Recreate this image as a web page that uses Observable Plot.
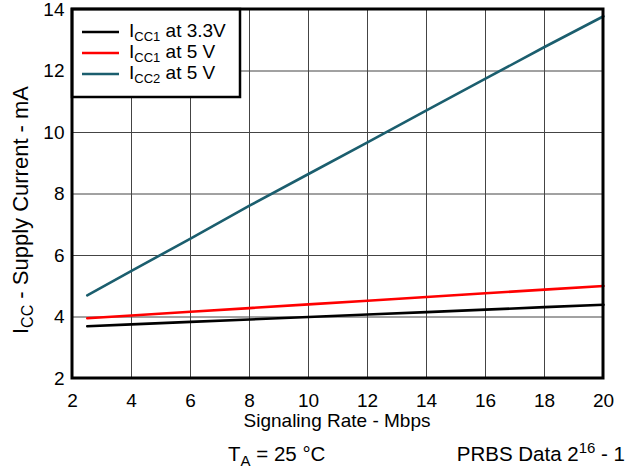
<!DOCTYPE html>
<html><head><meta charset="utf-8">
<script src="https://cdn.jsdelivr.net/npm/d3@7"></script>
<script src="https://cdn.jsdelivr.net/npm/@observablehq/plot@0.6"></script>
<style>
body{margin:0;background:#fff;}
svg{font-family:"Liberation Sans",Arial,sans-serif;}
</style></head><body>
<div id="chart"></div>
<script>
const rates = [2.5, 4, 6, 8, 10, 12, 14, 16, 18, 20];
const icc1_33 = [3.70, 3.76, 3.84, 3.92, 4.00, 4.08, 4.16, 4.24, 4.32, 4.40];
const icc1_5 = [3.96, 4.05, 4.17, 4.29, 4.41, 4.53, 4.65, 4.77, 4.89, 5.01];
const icc2_5 = [4.70, 5.50, 6.55, 7.62, 8.65, 9.68, 10.72, 11.75, 12.78, 13.78];
const seriesNames = ["ICC1 at 3.3V", "ICC1 at 5 V", "ICC2 at 5 V"];
const seriesColors = ["#000000", "#ff0000", "#1b5e6e"];
const xTicks = [2, 4, 6, 8, 10, 12, 14, 16, 18, 20];
const yTicks = [2, 4, 6, 8, 10, 12, 14];

const rows = [];
[icc1_33, icc1_5, icc2_5].forEach((vals, i) => {
  vals.forEach((v, j) => rows.push({series: seriesNames[i], x: rates[j], y: v}));
});

const W = 629, H = 470;
const mL = 72, mT = 9, mR = 26, mB = 92;
const FS = 19, SS = 13;
const plot = Plot.plot({
  width: W, height: H,
  marginLeft: mL, marginTop: mT, marginRight: mR, marginBottom: mB,
  style: {fontSize: FS + "px", fontFamily: "Liberation Sans, Arial, sans-serif", color: "#000", background: "#fff"},
  x: {domain: [2, 20], ticks: xTicks, tickSize: 0, tickPadding: 15, label: null},
  y: {domain: [2, 14], ticks: yTicks, tickSize: 0, tickPadding: 8, label: null},
  color: {domain: seriesNames, range: seriesColors},
  marks: [
    Plot.gridX(xTicks, {stroke: "#444", strokeOpacity: 1, strokeWidth: 1}),
    Plot.gridY(yTicks, {stroke: "#444", strokeOpacity: 1, strokeWidth: 1}),
    Plot.line(rows, {x: "x", y: "y", z: "series", stroke: "series", strokeWidth: 2.6})
  ]
});
document.getElementById("chart").appendChild(plot);

const svg = d3.select(plot);
const fx = W - mR, fy = H - mB;

// legend box
const lg = svg.append("g").attr("text-anchor", "start");
lg.append("rect").attr("x", mL).attr("y", mT).attr("width", 168).attr("height", 88)
  .attr("fill", "#fff").attr("stroke", "#000").attr("stroke-width", 2.5);
const legRows = [["CC1", " at 3.3V"], ["CC1", " at 5 V"], ["CC2", " at 5 V"]];
legRows.forEach((r, i) => {
  const cy = 32 + i * 21;
  lg.append("line").attr("x1", 82).attr("x2", 119).attr("y1", cy).attr("y2", cy)
    .attr("stroke", seriesColors[i]).attr("stroke-width", 2.6);
  const t = lg.append("text").attr("x", 129).attr("y", cy + 5).attr("font-size", FS)
    .attr("text-anchor", "start").attr("fill", "#000");
  t.append("tspan").text("I");
  t.append("tspan").attr("font-size", SS).attr("dy", 4).text(r[0]);
  t.append("tspan").attr("dy", -4).text(r[1]);
});

// frame
svg.append("rect").attr("x", mL).attr("y", mT).attr("width", fx - mL).attr("height", fy - mT)
  .attr("fill", "none").attr("stroke", "#000").attr("stroke-width", 3);

// axis titles
svg.append("text").attr("x", 337).attr("y", 427).attr("text-anchor", "middle")
  .attr("font-size", FS).text("Signaling Rate - Mbps");
const yl = svg.append("text").attr("transform", "translate(28,210) rotate(-90)")
  .attr("text-anchor", "middle").attr("font-size", 22);
yl.append("tspan").text("I");
yl.append("tspan").attr("font-size", 16).attr("dy", 5).text("CC");
yl.append("tspan").attr("dy", -5).text(" - Supply Current - mA");

// bottom notes
const NS = 20.5;
const ta = svg.append("text").attr("x", 228).attr("y", 461).attr("text-anchor", "start").attr("font-size", NS);
ta.append("tspan").text("T");
ta.append("tspan").attr("font-size", 15).attr("dy", 5).text("A");
ta.append("tspan").attr("dy", -5).text(" = 25 °C");
const pr = svg.append("text").attr("x", 625).attr("y", 461).attr("text-anchor", "end").attr("font-size", NS);
pr.append("tspan").text("PRBS Data 2");
pr.append("tspan").attr("font-size", 15).attr("dy", -8).text("16");
pr.append("tspan").attr("dy", 8).text(" - 1");
</script>
</body></html>
